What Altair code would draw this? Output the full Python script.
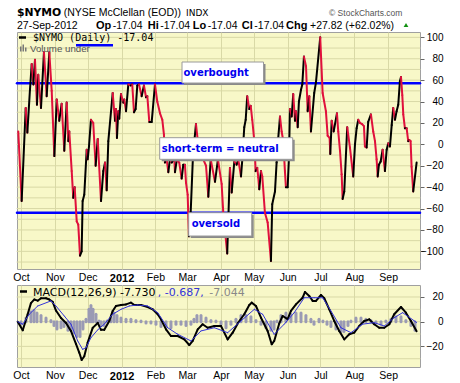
import altair as alt
import pandas as pd
import numpy as np

BASE = pd.Timestamp("2011-10-01")

# NYMO vertices: (days since 2011-10-01, value)
nymo = [(-2.5, 12), (0.6, -53), (4.3, 34), (5.8, 11), (8.2, 51), (9.8, 75), (11.3, 56), (12.8, 79),
        (14.6, 37), (15.8, 65), (18.3, 34), (21.0, 86), (23.5, 45), (25.9, 86), (28.1, 50), (30.5, -11),
        (32.7, 42), (35.0, 22), (37.2, 38), (39.6, -6), (41.8, 39), (43.3, 3), (44.2, 12), (46.4, -25),
        (47.8, -50), (49.1, -40), (51.0, -72), (52.4, -75), (54.0, -104), (55.5, -100), (56.4, -53),
        (57.9, -47), (60.1, -5), (61.0, -14), (62.2, -2), (64.0, 23), (66.1, 20), (68.3, -20), (70.2, 5),
        (73.2, -53), (75.3, -25), (76.9, -17), (78.4, -43), (79.9, 3), (83.9, 48), (86.0, 22), (86.9, 33),
        (87.8, 6), (89.0, 31), (89.9, 24), (91.5, 47), (93.6, 39), (94.5, 42), (96.1, 31), (98.2, 56),
        (100.4, 55), (101.8, 56), (103.4, 30), (104.9, 33), (106.4, 55), (108.0, 56), (110.4, 45),
        (112.5, 55), (114.4, 44), (115.6, 45), (117.4, 21), (119.6, 21), (122.6, 56), (124.7, 40),
        (127.2, 29), (129.3, 23), (130.8, 9), (131.7, -17), (133.3, -14), (134.8, -26), (136.3, -14),
        (137.9, -17), (140.3, -14), (140.9, -26), (142.5, -15), (144.8, -17), (147.0, -32), (148.5, -19),
        (150.0, -19), (151.0, -36), (152.5, -47), (153.7, -86), (154.6, -80), (157.4, -10), (160.1, 19),
        (161.9, 2), (166.8, -14), (169.3, -20), (171.4, -49), (173.6, -14), (177.5, -35), (180.2, -14),
        (183.6, -37), (185.1, -64), (188.7, -102), (191.2, -22), (192.8, -45), (195.2, -16), (197.3, -19),
        (198.8, -14), (201.3, -30), (202.5, -14), (204.3, 16), (205.6, 23), (207.0, 45), (208.9, 33),
        (210.2, 36), (211.6, 23), (213.5, 3), (214.7, -25), (216.2, -22), (217.1, -31), (218.0, -42),
        (219.6, -25), (220.8, -30), (223.2, -64), (225.7, -73), (228.7, -109), (229.9, -56), (232.4, -44),
        (233.9, -17), (235.4, 6), (237.0, 26), (238.5, 12), (240.0, 3), (241.5, -25), (242.4, -40),
        (244.0, -40), (245.2, -12), (246.1, 33), (247.7, 26), (249.1, 47), (250.7, 22), (251.6, 31),
        (253.2, 16), (254.3, 40), (256.2, 51), (257.4, 56), (258.9, 82), (260.8, 73), (262.3, 31),
        (263.8, 45), (265.3, 12), (268.3, 48), (269.9, 58), (273.8, 100), (276.0, 48), (279.0, 31),
        (280.6, 8), (282.4, 6), (283.0, -9), (284.3, 22), (286.1, 12), (289.1, 29), (290.3, 12),
        (291.9, -6), (293.4, -28), (294.3, -51), (295.8, -44), (298.5, 16), (301.0, -3), (304.0, -30),
        (305.6, 0), (307.1, 15), (308.6, 23), (310.2, 20), (312.0, 19), (313.8, 17), (314.7, -2),
        (316.3, -3), (317.7, 21), (320.2, 28), (322.3, 12), (323.9, 3), (325.4, -14), (326.4, -30),
        (327.5, -19), (329.1, -16), (330.9, -5), (333.0, -25), (334.6, -5), (336.0, 1), (337.6, -2),
        (339.2, 18), (340.6, 34), (342.2, 23), (343.7, 31), (345.2, 37), (346.7, 59), (347.7, 63),
        (348.9, 46), (349.8, 28), (351.3, 15), (352.9, 15), (354.3, 3), (355.3, 4), (356.5, 3),
        (357.4, -21), (358.9, -44), (362.0, -17.04)]

macd = [(-3.0, 0), (1.6, -7), (6.1, 6), (9.1, 15), (12.2, 18), (15.3, 17), (18.3, 19), (22.9, 19),
        (25.9, 18), (29.0, 16), (32.0, 9), (36.6, 3), (41.2, -1), (45.7, -7.5), (50.3, -18), (53.3, -25),
        (55.5, -31), (57.9, -28), (61.0, -17), (65.6, -5), (70.2, -1), (73.2, -6.6), (76.2, -6.6),
        (80.8, 0.6), (83.9, 8.7), (86.9, 12.7), (91.5, 13.5), (96.1, 14), (100.6, 15.4), (103.7, 13.5),
        (109.8, 13.5), (115.9, 11.9), (120.5, 10), (125.1, 6), (128.1, 1.9), (132.7, -6.2), (137.2, -11.6),
        (143.4, -11.6), (149.4, -14.3), (154.0, -18.9), (157.1, -15.6), (161.7, -6.2), (166.2, -2.1),
        (170.8, -4.9), (176.9, -3.5), (183.0, -3.5), (189.1, -14.3), (193.7, -8.9), (198.3, -1.4),
        (204.3, 6), (208.9, 13.5), (211.1, 15.4), (215.0, 12.7), (219.6, 3.2), (225.7, -7.5),
        (229.4, -18.3), (231.7, -15.6), (236.3, -1.4), (239.4, 4.6), (244.0, 2), (247.0, 8.7),
        (251.6, 14), (257.7, 19.4), (259.8, 24), (263.8, 20.8), (266.9, 16.8), (269.9, 16.8),
        (274.5, 21.6), (277.5, 19), (282.1, 10), (286.6, 0.6), (291.2, -7.5), (295.8, -14.3),
        (300.4, -10.2), (304.9, -8.9), (309.5, -3.5), (314.1, 0.6), (318.7, 1.9), (323.2, -2.1),
        (327.8, -4.9), (332.4, -4.9), (337.0, -2.1), (341.5, 6), (347.7, 11.9), (352.2, 7.3),
        (356.8, 0.6), (362.0, -7.73)]

signal = [(-3.0, 0), (1.6, -2), (7.6, 6), (15.3, 12.7), (27.4, 16.8), (32.0, 12.7), (39.6, 4.6),
          (45.7, -2), (51.9, -15.6), (56.4, -22.4), (59.5, -21), (64.0, -13), (70.2, -6.6), (76.2, -2),
          (83.9, 6), (91.5, 10), (99.1, 12.7), (106.8, 13.5), (115.9, 12.7), (125.1, 7.3), (134.2, -4.9),
          (143.4, -10.2), (155.5, -15.6), (164.7, -7.5), (176.9, -4.9), (189.1, -8.9), (201.3, 0.6),
          (213.5, 10), (221.1, 6), (231.7, -10.2), (240.9, -2), (250.0, 7.3), (259.2, 19.4),
          (268.3, 19.4), (276.0, 19.4), (283.6, 8.7), (292.8, -4.9), (301.9, -8.9), (312.6, -2),
          (323.2, -0.8), (332.4, -3.5), (341.5, 3.2), (349.2, 7.3), (362.0, -0.69)]

hist = [(0, -2), (4.6, 3), (9.1, 8), (11.9, 9), (14.6, 7), (18.3, 5), (22.9, 3), (27.4, 1), (30.2, -3),
        (32.9, -6), (36.6, -5), (39.3, -4), (43.0, -7), (45.7, -7), (48.5, -9), (51.2, -12), (54.0, -12),
        (56.7, -6), (59.5, 2), (62.2, 10), (64.0, 13), (65.9, 10), (68.6, 6), (71.4, 0.5), (73.2, -3),
        (75.9, -3), (78.7, 0.5), (82.3, 3), (85.1, 7), (87.8, 5), (91.5, 3), (96.1, 2), (100.6, 2),
        (105.2, 1), (109.8, 0.5), (114.4, -1), (118.9, -1), (123.5, -2), (128.1, -4), (132.7, -4),
        (137.2, -5), (141.8, -2), (146.4, -2), (151.0, -3), (155.5, -2), (158.3, 2), (161.0, 5),
        (164.7, 5), (169.3, 3), (173.8, 1), (178.4, 0.5), (183.0, -2), (187.6, -5), (192.1, -2),
        (196.7, 2), (201.3, 5), (205.9, 5), (210.4, 4), (215.0, 1), (219.6, -2), (224.2, -5), (228.7, -7),
        (231.5, -6), (234.2, 0.5), (237.9, 5), (242.4, 7), (247.0, 6), (251.6, 7), (256.2, 7), (260.7, 5),
        (265.3, 2), (268.1, -2), (272.7, 2), (276.3, 0.5), (280.0, -2), (283.6, -4), (288.2, -6),
        (292.8, -8), (295.5, -8), (299.2, -3), (301.9, 0.5), (306.5, 3), (311.1, 3), (315.6, 2),
        (320.2, 1), (324.8, -1), (329.4, -2), (333.9, 0.5), (338.5, 2), (343.1, 4), (347.7, 4),
        (352.2, 1), (356.8, -3), (360.5, -7)]

levels = [57, -64]  # overbought / oversold
month_starts = ["2011-10-01", "2011-11-01", "2011-12-01", "2012-01-01", "2012-02-01", "2012-03-01",
                "2012-04-01", "2012-05-01", "2012-06-01", "2012-07-01", "2012-08-01", "2012-09-01"]
main_labels = [-100, -80, -60, -40, -20, 0, 20, 40, 60, 80, 100]
main_grid = [-110, -100, -90, -80, -70, -60, -50, -40, -30, -20, -10, 0, 10, 20, 30, 40, 50, 60, 70, 80, 90, 100]
macd_labels = [-20, 0, 20]
macd_grid = [-30, -20, -10, 0, 10, 20]
x_domain_days = [-3.66, 365.1]
main_domain = [-116.5, 105]
macd_domain = [-36.7, 29.7]

BG = "#F8F8C8"
GRID = "#D9D9A6"
RED = "#E0103C"
BLUE = "#3434D8"
HIST = "#9A9AB4"
SANS = "Liberation Sans"
VERD = "DejaVu Sans"
W = 403

# style per kind of rule: (colour, stroke width)
STYLE = {"grid": (GRID, 1), "level": ("#0000FF", 2.5), "up": ("#000000", 2), "down": (RED, 2),
         "hist": (HIST, 3), "macd": ("#000000", 2), "signal": (BLUE, 1)}


def iso(days):
    return [(BASE + pd.Timedelta(days=float(d))).strftime("%Y-%m-%dT%H:%M:%SZ") for d in days]


def ms(ts):
    return int(pd.Timestamp(ts).value // 10**6)


xdom = [ms(BASE + pd.Timedelta(days=d)) for d in x_domain_days]
edge = iso(x_domain_days)
month_ms = [ms(m) for m in month_starts]

ONE = alt.Data(values=[{"a": 1}])


def txt(s, x, y, size=10, font=SANS, weight="normal", color="black", align="left", baseline="alphabetic"):
    return alt.Chart(ONE).mark_text(text=s, align=align, baseline=baseline, font=font, fontSize=size,
                                    fontWeight=weight, color=color).encode(x=alt.value(x), y=alt.value(y))


def box(x1, y1, x2, y2, fill, stroke=None):
    kw = dict(fill=fill)
    if stroke:
        kw.update(stroke=stroke, strokeWidth=1)
    return alt.Chart(ONE).mark_rect(**kw).encode(x=alt.value(x1), x2=alt.value(x2),
                                                 y=alt.value(y1), y2=alt.value(y2))


def hline(x1, x2, y, color, width):
    return alt.Chart(ONE).mark_rule(color=color, strokeWidth=width).encode(
        x=alt.value(x1), x2=alt.value(x2), y=alt.value(y))


XAXIS = alt.Axis(values=month_ms, grid=True, gridColor=GRID, gridWidth=1, domain=False, ticks=False,
                 title=None, labelPadding=3, labelBaseline="top", labelColor="black", labelFont=SANS,
                 labelOverlap=False, labelFlush=False,
                 labelFontSize={"condition": {"test": "utcmonth(datum.value)==0", "value": 11}, "value": 10.5},
                 labelFontWeight={"condition": {"test": "utcmonth(datum.value)==0", "value": "bold"}, "value": "normal"},
                 labelExpr="utcmonth(datum.value)==0 ? utcFormat(datum.value,'%Y') : utcFormat(datum.value,'%b')")


def y_axis(values):
    return alt.Axis(orient="right", values=values, grid=False, domain=False, title=None, tickSize=4,
                    tickColor="#666666", labelOverlap=False, labelAlign="right", labelPadding=19,
                    labelFont=SANS, labelFontSize=10, labelColor="black")


def hrows(vals, kind):
    return pd.DataFrame({"t0": edge[0], "t1": edge[1], "v0": vals, "v1": vals, "kind": kind})


def segrows(pairs, kind=None):
    d, v = zip(*pairs)
    t = iso(d)
    df = pd.DataFrame({"t0": t[:-1], "t1": t[1:], "v0": v[:-1], "v1": v[1:]})
    if kind is None:
        df["kind"] = np.where(df["v1"] >= df["v0"], "up", "down")
    else:
        df["kind"] = kind
    return df


def styled(df):
    df = df.reset_index(drop=True)
    df["col"] = [STYLE[k][0] for k in df["kind"]]
    df["w"] = [STYLE[k][1] for k in df["kind"]]
    df["i"] = range(len(df))
    return df


xs = alt.Scale(type="utc", domain=xdom)


def panel(df, ydomain, ylabels):
    return alt.Chart(df).mark_rule(strokeCap="round").encode(
        x=alt.X("t0:T", scale=xs, axis=XAXIS),
        x2="t1:T",
        y=alt.Y("v0:Q", scale=alt.Scale(domain=ydomain, nice=False, zero=False), axis=y_axis(ylabels)),
        y2="v1:Q",
        color=alt.Color("col:N", scale=None, legend=None),
        strokeWidth=alt.StrokeWidth("w:Q", scale=None, legend=None),
        order=alt.Order("i:Q"),
    )


# ---------- main panel ----------
main_df = styled(pd.concat([hrows(main_grid, "grid"), hrows(levels, "level"), segrows(nymo)]))
main_rules = panel(main_df, main_domain, main_labels)

anchor = box(-16, -31, -15, -30, "white")

main_layers = [
    anchor,
    main_rules,
    # legend
    hline(2, 9, 5.5, "black", 2.5),
    txt("$NYMO (Daily) -17.04", 16, 9, size=10, font="DejaVu Sans Mono"),
    box(3, 14.5, 4.5, 19.5, "#777777"), box(5.5, 12.5, 7, 19.5, "#777777"), box(8, 15.5, 9.5, 19.5, "#777777"),
    txt("Volume under", 13, 19.5, size=9.7, color="#555555"),
    hline(59, 96, 13.2, "#0000FF", 2.5),
    # annotation boxes
    box(167, 32, 248.5, 53, "#8A8A8A"), box(165, 30, 246.5, 51, "white", "#9A9A9A"),
    txt("overbought", 166.5, 40.5, size=10, font=VERD, weight="bold", color="#0000EE", baseline="middle"),
    box(144.7, 107.7, 277.7, 129.3, "#8A8A8A"), box(142.7, 105.7, 275.7, 127.3, "white", "#9A9A9A"),
    txt("short-term = neutral", 144.7, 116.5, size=10, font=VERD, weight="bold", color="#0000EE", baseline="middle"),
    box(173.7, 182.7, 236.7, 206, "#8A8A8A"), box(171.7, 180.7, 234.7, 204, "white", "#9A9A9A"),
    txt("oversold", 174.7, 192.3, size=10, font=VERD, weight="bold", color="#0000EE", baseline="middle"),
    # header
    txt("$NYMO", 0, -16.5, size=10.8, font=VERD, weight="bold"),
    txt("(NYSE McClellan (EOD))", 46.7, -16.5, size=10.5),
    txt("INDX", 169, -16.5, size=9, font=VERD),
    txt("\u00a9 StockCharts.com", 312, -16.5, size=8.5, color="#555555"),
    txt("27-Sep-2012", 0, -3.3, size=10.5),
    txt("Op", 79, -3.3, size=11, weight="bold"), txt("-17.04", 95.7, -3.3, size=10.5),
    txt("Hi", 130.7, -3.3, size=11, weight="bold"), txt("-17.04", 143.3, -3.3, size=10.5),
    txt("Lo", 175.7, -3.3, size=11, weight="bold"), txt("-17.04", 190.7, -3.3, size=10.5),
    txt("Cl", 224.7, -3.3, size=11, weight="bold"), txt("-17.04", 237.3, -3.3, size=10.5),
    txt("Chg", 269, -3.3, size=11, weight="bold"), txt("+27.82 (+62.02%)", 293, -3.3, size=10.5),
    alt.Chart(ONE).mark_point(shape="triangle-up", filled=True, color="#109010", size=22, opacity=1).encode(
        x=alt.value(389), y=alt.value(-7)),
]
main = alt.layer(*main_layers).properties(width=W, height=237)

# ---------- MACD panel ----------
hd, hv = zip(*hist)
ht = iso(hd)
hist_df = pd.DataFrame({"t0": ht, "t1": ht, "v0": 0.0, "v1": hv, "kind": "hist"})
macd_df = styled(pd.concat([hrows(macd_grid, "grid"), hist_df, segrows(macd, "macd"), segrows(signal, "signal")]))
macd_rules = panel(macd_df, macd_domain, macd_labels)

macd_chart = alt.layer(
    macd_rules,
    hline(3, 10, 6.5, "black", 2.5),
    txt("MACD(12,26,9) -7.730", 16, 10.5, size=11, font=VERD),
    txt(", -0.687,", 140.7, 10.5, size=11, font=VERD, color=BLUE),
    txt("-7.044", 192.3, 10.5, size=11, font=VERD, color="#888888"),
).properties(width=W, height=82)

chart = alt.vconcat(main, macd_chart, spacing=16, bounds="flush").properties(
    padding={"left": 0, "top": 0, "right": 0, "bottom": 0}
).configure(background="white").configure_view(fill=BG, stroke="#A0A0A0", strokeWidth=1)

chart.save("out.html", embed_options={"renderer": "svg", "actions": False})
